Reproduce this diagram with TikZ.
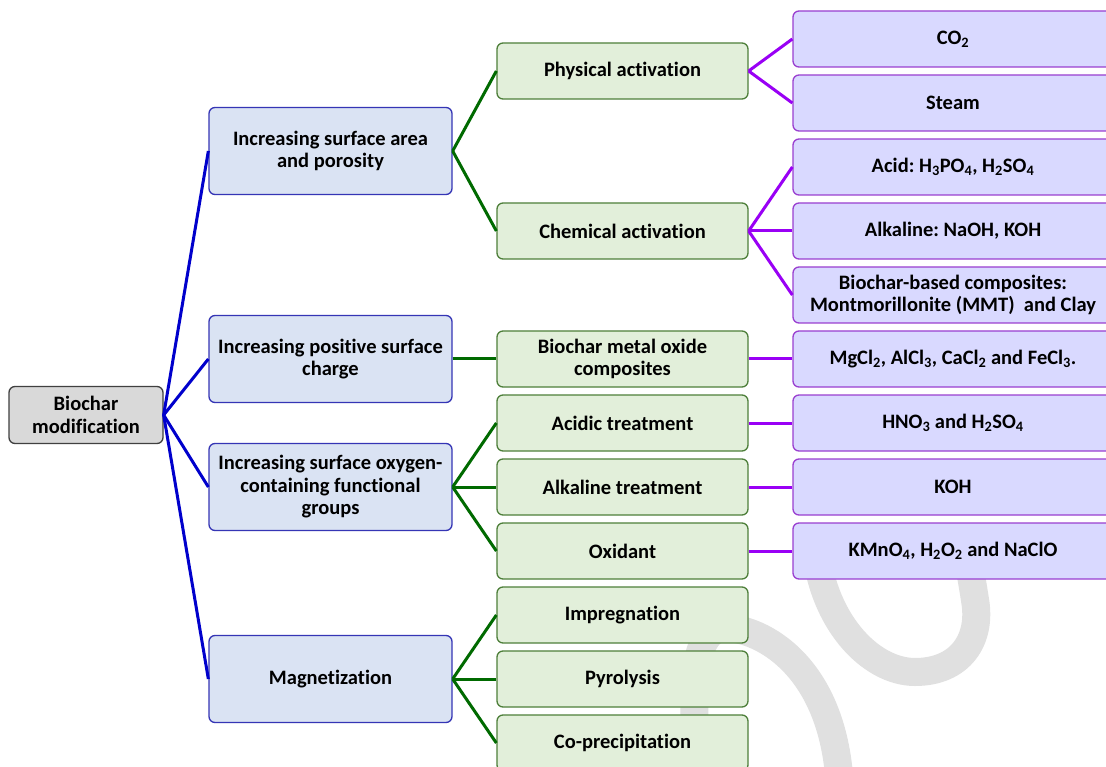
\documentclass[tikz,border=0pt]{standalone}
\usepackage{fontspec}
\setmainfont{Carlito}[RawFeature={-liga;-clig;-calt;-dlig;-rlig}]
\frenchspacing
\newcommand{\chemsub}[1]{\textsubscript{#1}}

\definecolor{rootfill}{HTML}{D9D9D9}
\definecolor{rootline}{HTML}{404040}
\definecolor{mainfill}{HTML}{DAE3F3}
\definecolor{mainline}{HTML}{3535B5}
\definecolor{methfill}{HTML}{E2EFDA}
\definecolor{methline}{HTML}{4E7F3A}
\definecolor{agentfill}{HTML}{D9D9FF}
\definecolor{agentline}{HTML}{9A3FD0}
\definecolor{bluelinkc}{HTML}{0000CC}
\definecolor{greenlinkc}{HTML}{006A00}
\definecolor{purplelinkc}{HTML}{9900F5}
\definecolor{wmark}{HTML}{E0E0E0}

\tikzset{
  basebox/.style={rounded corners=6pt, line width=1.3pt, align=center, inner sep=0pt,
    font=\fontsize{20.5}{22.5}\selectfont\bfseries},
  rootbox/.style={basebox, draw=rootline, fill=rootfill, minimum width=154pt, minimum height=57pt},
  mainbox/.style={basebox, draw=mainline, fill=mainfill, minimum width=243pt, minimum height=87pt},
  methodbox/.style={basebox, draw=methline, fill=methfill, minimum width=251pt, minimum height=56pt},
  agentbox/.style={basebox, draw=agentline, fill=agentfill, minimum width=320pt, minimum height=56pt},
  bluelink/.style={draw=bluelinkc, line width=3pt},
  greenlink/.style={draw=greenlinkc, line width=3pt},
  purplelink/.style={draw=purplelinkc, line width=3pt},
}

\begin{document}
\begin{tikzpicture}[x=1pt, y=-1pt]
        \clip (0,0) rectangle (1106,767);
        \fill[white] (0,0) rectangle (1106,767);

        % watermark
        \draw[wmark, line width=28pt] (815,540) .. controls (820,620) and (870,672) .. (915,672)
              .. controls (960,672) and (982,640) .. (975,600) .. controls (972,580) and (968,560) .. (965,540);
        \draw[wmark, line width=28pt] (700,790) .. controls (690,700) and (690,628) .. (725,628)
              .. controls (760,628) and (835,665) .. (840,790);

        % root and main strategies
        \node[rootbox] (root) at (86,415) {Biochar\\modification};
        \node[mainbox] (area) at (330.5,151) {Increasing surface area\\and porosity};
        \node[mainbox] (charge) at (330.5,359) {Increasing positive surface\\charge};
        \node[mainbox] (oxygen) at (330.5,487) {Increasing surface oxygen-\\containing functional\\groups};
        \node[mainbox] (magnet) at (330.5,679) {Magnetization};

        % methods
        \node[methodbox] (physact) at (622.5,71) {Physical activation};
        \node[methodbox] (chemact) at (622.5,231) {Chemical activation};
        \node[methodbox] (metaloxide) at (622.5,359) {Biochar metal oxide\\composites};
        \node[methodbox] (acidic) at (622.5,423) {Acidic treatment};
        \node[methodbox] (alkaline) at (622.5,487) {Alkaline treatment};
        \node[methodbox] (oxidant) at (622.5,551) {Oxidant};
        \node[methodbox] (impreg) at (622.5,615) {Impregnation};
        \node[methodbox] (pyro) at (622.5,679) {Pyrolysis};
        \node[methodbox] (coprecip) at (622.5,743) {Co-precipitation};

        % agents
        \node[agentbox] (co2) at (953,39) {CO\chemsub{2}};
        \node[agentbox] (steam) at (953,103) {Steam};
        \node[agentbox] (acid) at (953,167) {Acid: H\chemsub{3}PO\chemsub{4}, H\chemsub{2}SO\chemsub{4}};
        \node[agentbox] (alkali) at (953,231) {Alkaline: NaOH, KOH};
        \node[agentbox] (composite) at (953,295) {Biochar-based composites:\\Montmorillonite (MMT) \ and Clay};
        \node[agentbox] (chloride) at (953,359) {MgCl\chemsub{2}, AlCl\chemsub{3}, CaCl\chemsub{2} and FeCl\chemsub{3}.};
        \node[agentbox] (hno) at (953,423) {HNO\chemsub{3} and H\chemsub{2}SO\chemsub{4}};
        \node[agentbox] (koh) at (953,487) {KOH};
        \node[agentbox] (kmno) at (953,551) {KMnO\chemsub{4}, H\chemsub{2}O\chemsub{2} and NaClO};

        % connectors
        \foreach \t in {area,charge,oxygen,magnet}
          \draw[bluelink] (root.east) -- (\t.west);
        \foreach \t in {physact,chemact}
          \draw[greenlink] (area.east) -- (\t.west);
        \draw[greenlink] (charge.east) -- (metaloxide.west);
        \foreach \t in {acidic,alkaline,oxidant}
          \draw[greenlink] (oxygen.east) -- (\t.west);
        \foreach \t in {impreg,pyro,coprecip}
          \draw[greenlink] (magnet.east) -- (\t.west);
        \foreach \t in {co2,steam}
          \draw[purplelink] (physact.east) -- (\t.west);
        \foreach \t in {acid,alkali,composite}
          \draw[purplelink] (chemact.east) -- (\t.west);
        \draw[purplelink] (metaloxide.east) -- (chloride.west);
        \draw[purplelink] (acidic.east) -- (hno.west);
        \draw[purplelink] (alkaline.east) -- (koh.west);
        \draw[purplelink] (oxidant.east) -- (kmno.west);
        \end{tikzpicture}
\end{document}
